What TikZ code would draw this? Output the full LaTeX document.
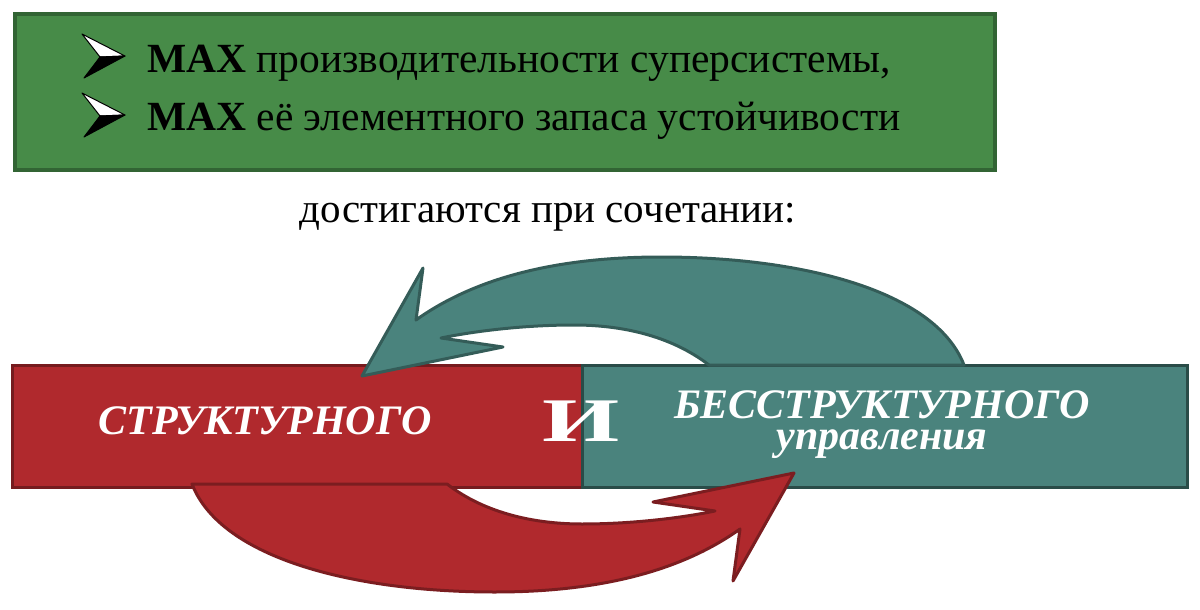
\documentclass[tikz,border=0pt]{standalone}
\usepackage{fontspec}
\setmainfont{Liberation Serif}
\usetikzlibrary{positioning}
\definecolor{verde}{RGB}{71,139,72}
\definecolor{verdeosc}{RGB}{50,100,52}
\definecolor{rojo}{RGB}{176,41,45}
\definecolor{rojoosc}{RGB}{118,27,30}
\definecolor{marino}{RGB}{74,131,125}
\definecolor{marinoosc}{RGB}{42,76,72}
\tikzset{
  marco/.style={draw=verdeosc, fill=verde, line width=4pt, inner sep=0pt},
  bloque/.style={line width=3pt, inner sep=0pt, minimum height=122pt},
  linea/.style={font=\fontsize{41.5}{48}\selectfont, inner sep=0pt},
  tit/.style={font=\fontsize{42}{31}\selectfont\bfseries\itshape, text=white, inner sep=0pt},
  flecha/.style={line width=3pt, line join=round},
}
\begin{document}
\begin{tikzpicture}[x=1pt,y=-1pt]
  \useasboundingbox (0,0) rectangle (1200,610);
  % upper box
  \node[marco, minimum width=980pt, minimum height=156pt] (caja) at (505,92) {};
  \foreach \yb in {56,115} {
    \filldraw[fill=white, line width=1pt, line join=round] (82,\yb-22) -- (125,\yb) -- (100,\yb+1) -- cycle;
    \filldraw[line width=1pt, line join=round] (100,\yb+1) -- (125,\yb) -- (84,\yb+22) -- cycle;
  }
  \node[linea, anchor=base west] (l1) at (147,73) {\textbf{МАХ} производительности суперсистемы,};
  \node[linea, anchor=base west] (l2) at (147,130) {\textbf{МАХ} её элементного запаса устойчивости};
  \node[linea, font=\fontsize{41}{48}\selectfont, anchor=base] (medio) at (548,222) {достигаются при сочетании:};
  % the two blocks
  \node[bloque, draw=rojoosc, fill=rojo, minimum width=571pt] (estr) at (297.5,426) {};
  \node[bloque, draw=marinoosc, fill=marino, minimum width=605pt] (sinestr) at (884.5,426) {};
  % curved arrows
  \foreach \ang/\col in {0/marino, 180/rojo} {
    \filldraw[flecha, fill=\col, draw=\col!70!black, rotate around={\ang:(578,424.5)}]
      (362,376) -- (423,268) -- (416,320)
      .. controls (465,285) and (540,257) .. (661,257)
      .. controls (800,257) and (935,290) .. (964,365)
      -- (709,365)
      .. controls (670,335) and (620,325) .. (574,325)
      .. controls (520,325) and (470,332) .. (441,338)
      -- (503,347) -- cycle;
  }
  \node[tit, anchor=base] (t1) at (265,434) {СТРУКТУРНОГО};
  \node[tit, align=center, anchor=base] (t2) at (882,449) {БЕССТРУКТУРНОГО\\управления};
  \node[tit, font=\fontsize{62}{64}\selectfont\bfseries, anchor=base] (i) at (581,441) {\scalebox{1.6}[1]{И}};
\end{tikzpicture}
\end{document}
